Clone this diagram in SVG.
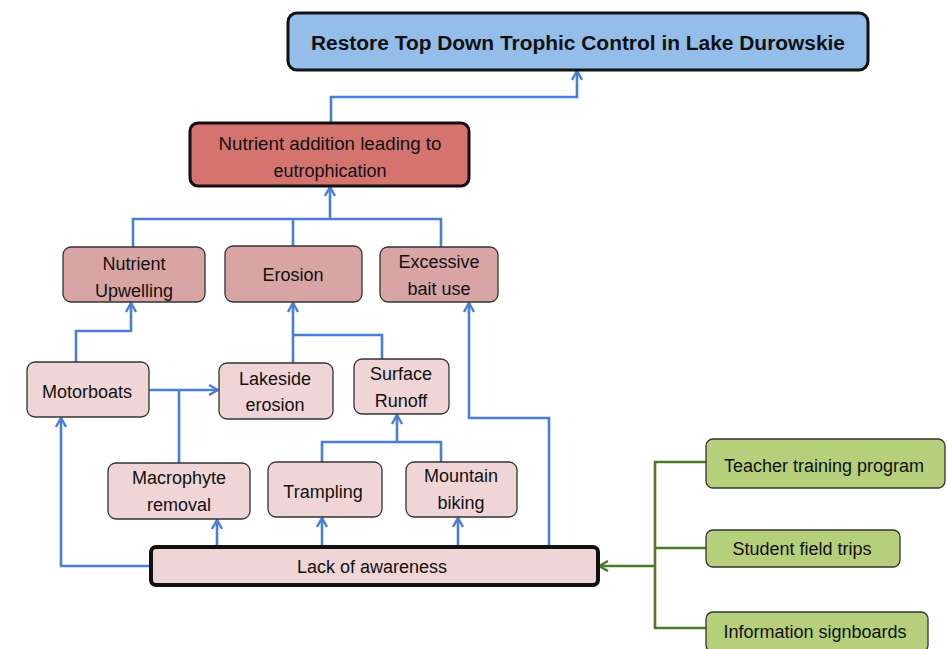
<svg xmlns="http://www.w3.org/2000/svg" width="947" height="649" viewBox="0 0 947 649">
<style>
text{font-family:"Liberation Sans",Arial,sans-serif;font-size:18px;fill:#111;text-anchor:middle}
.b{font-weight:bold;font-size:20px}
.thin{stroke:#333;stroke-width:1.3}
.thick{stroke:#111;stroke-width:3}
.lv1{fill:#d8a5a4}
.lv2{fill:#efd5d5}
.grn{fill:#b6cf7b}
.c{fill:none;stroke:#4a7fd4;stroke-width:2.6}
.g{fill:none;stroke:#4b7a2c;stroke-width:2.6}
</style>
<defs>
<marker id="ab" viewBox="0 0 12 12" refX="11" refY="6" markerWidth="12" markerHeight="12" markerUnits="userSpaceOnUse" orient="auto">
<path d="M2,1 L11,6 L2,11" fill="none" stroke="#4a7fd4" stroke-width="2.4"/>
</marker>
<marker id="ag" viewBox="0 0 12 12" refX="11" refY="6" markerWidth="12" markerHeight="12" markerUnits="userSpaceOnUse" orient="auto">
<path d="M2,1 L11,6 L2,11" fill="none" stroke="#4b7a2c" stroke-width="2.4"/>
</marker>
</defs>
<g id="connectors">
<path class="c" d="M331,123 V97 H577 V71" marker-end="url(#ab)"/>
<path class="c" d="M133,247 V219 H441 V247 M293,219 V246 M330,219 V187" marker-end="url(#ab)"/>
<path class="c" d="M76,362 V331 H131 V303" marker-end="url(#ab)"/>
<path class="c" d="M149,390 H218" marker-end="url(#ab)"/>
<path class="c" d="M179,390 V463"/>
<path class="c" d="M293,363 V335 H382 V359 M293,335 V303" marker-end="url(#ab)"/>
<path class="c" d="M549,547 V418 H469 V303" marker-end="url(#ab)"/>
<path class="c" d="M322,462 V442 H441 V462 M397,442 V415" marker-end="url(#ab)"/>
<path class="c" d="M151,566 H61 V418" marker-end="url(#ab)"/>
<path class="c" d="M217,547 V520" marker-end="url(#ab)"/>
<path class="c" d="M322,547 V518" marker-end="url(#ab)"/>
<path class="c" d="M458,547 V518" marker-end="url(#ab)"/>
<path class="g" d="M706,462 H655 V628 H706 M655,548 H706"/>
<path class="g" d="M655,566 H599" marker-end="url(#ag)"/>
</g>
<g id="goal"><rect x="288" y="13" width="580" height="57" rx="9" fill="#94bde9" class="thick"/><text class="b" x="578" y="50" textLength="534" lengthAdjust="spacingAndGlyphs">Restore Top Down Trophic Control in Lake Durowskie</text></g>
<g id="nutrient-addition"><rect x="190" y="123" width="279" height="63" rx="8" fill="#d5736f" class="thick"/><text x="330" y="150" textLength="223" lengthAdjust="spacingAndGlyphs">Nutrient addition leading to</text><text x="330" y="177">eutrophication</text></g>
<g id="nutrient-upwelling"><rect x="63" y="247" width="142" height="55" rx="8" class="lv1 thin"/><text x="134" y="270">Nutrient</text><text x="134" y="297">Upwelling</text></g>
<g id="erosion"><rect x="225" y="246" width="137" height="56" rx="8" class="lv1 thin"/><text x="293" y="281">Erosion</text></g>
<g id="excessive-bait"><rect x="380" y="247" width="118" height="55" rx="8" class="lv1 thin"/><text x="439" y="268">Excessive</text><text x="439" y="295">bait use</text></g>
<g id="motorboats"><rect x="27" y="362" width="122" height="55" rx="8" class="lv2 thin"/><text x="87" y="398">Motorboats</text></g>
<g id="lakeside-erosion"><rect x="219" y="363" width="114" height="56" rx="8" class="lv2 thin"/><text x="275" y="385">Lakeside</text><text x="275" y="411">erosion</text></g>
<g id="surface-runoff"><rect x="354" y="359" width="95" height="55" rx="8" class="lv2 thin"/><text x="401" y="380">Surface</text><text x="401" y="407">Runoff</text></g>
<g id="macrophyte"><rect x="108" y="463" width="142" height="56" rx="8" class="lv2 thin"/><text x="179" y="484">Macrophyte</text><text x="179" y="511">removal</text></g>
<g id="trampling"><rect x="268" y="462" width="114" height="55" rx="8" class="lv2 thin"/><text x="323" y="498">Trampling</text></g>
<g id="mountain-biking"><rect x="406" y="462" width="111" height="55" rx="8" class="lv2 thin"/><text x="461" y="482">Mountain</text><text x="461" y="509">biking</text></g>
<g id="lack-of-awareness"><rect x="151" y="547" width="447" height="38" rx="5" class="lv2" stroke="#111" stroke-width="4"/><text x="372" y="573">Lack of awareness</text></g>
<g id="teacher-training"><rect x="706" y="439" width="239" height="49" rx="7" class="grn thin"/><text x="824" y="472">Teacher training program</text></g>
<g id="student-trips"><rect x="706" y="530" width="194" height="37" rx="7" class="grn thin"/><text x="802" y="555">Student field trips</text></g>
<g id="signboards"><rect x="706" y="612" width="222" height="40" rx="7" class="grn thin"/><text x="815" y="638">Information signboards</text></g>
</svg>
